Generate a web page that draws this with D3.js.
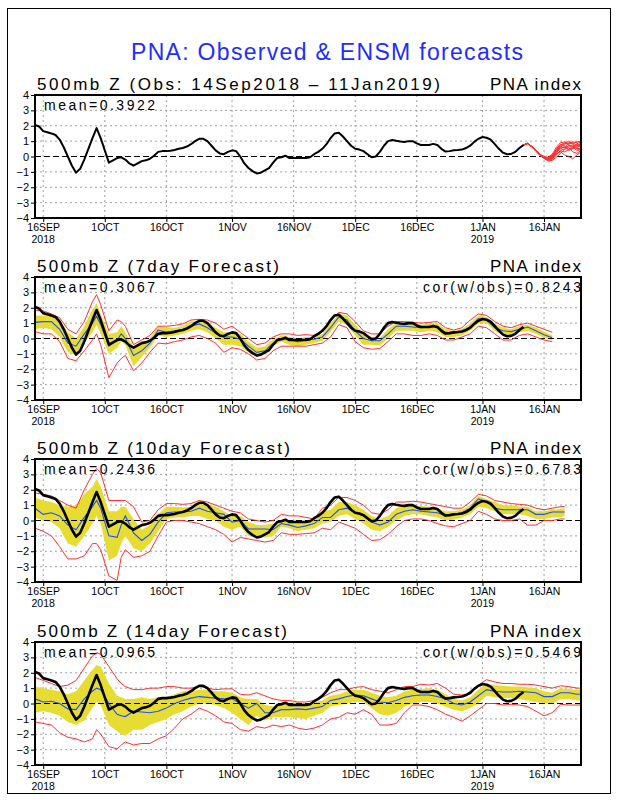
<!DOCTYPE html>
<html>
<head>
<meta charset="utf-8">
<script src="https://cdn.jsdelivr.net/npm/d3@7"></script>
<style>
  body { margin: 0; background: #fff; }
  text { font-family: "Liberation Sans", Arial, sans-serif; }
</style>
</head>
<body>
<script>
// observed PNA index, one value a day from 14 Sep 2018 to 11 Jan 2019
let obsStart = new Date(Date.UTC(2018, 8, 14))
let obsVals = [2.05,1.95,1.65,1.58,1.5,1.4,1.1,0.6,0.0,-0.6,
  -1.05,-0.8,-0.2,0.5,1.2,1.85,1.2,0.4,-0.4,-0.25,
  -0.1,-0.05,-0.2,-0.45,-0.6,-0.45,-0.3,-0.25,-0.15,0.05,
  0.3,0.35,0.35,0.38,0.42,0.5,0.55,0.65,0.8,1.0,
  1.15,1.15,1.0,0.7,0.4,0.2,0.15,0.3,0.4,0.35,
  0.0,-0.45,-0.75,-0.95,-1.1,-1.05,-0.9,-0.75,-0.4,-0.1,
  -0.05,0.05,-0.1,-0.1,-0.1,-0.1,-0.1,-0.05,0.15,0.3,
  0.5,0.8,1.2,1.5,1.55,1.3,1.0,0.7,0.5,0.45,
  0.35,0.15,-0.05,0.0,0.3,0.7,1.0,1.07,1.02,0.98,
  0.95,1.0,1.0,0.85,0.75,0.75,0.75,0.82,0.75,0.5,
  0.32,0.35,0.4,0.42,0.45,0.55,0.7,0.95,1.15,1.27,
  1.22,1.1,0.8,0.5,0.25,0.15,0.17,0.3,0.55,0.75]

// ensemble members after the last observation (top panel, red)
let ensDays = [119,120,121,122,123,124,125,126,127,128,129,130,131,132,133]
let ensMembers = [
  [0.75,0.85,0.65,0.4,0.12,-0.05,-0.15,-0.1,0.3,0.6,0.8,0.9,0.85,0.95,1.0],
  [0.75,0.83,0.62,0.35,0.08,-0.1,-0.25,-0.2,0.1,0.4,0.5,0.7,0.6,0.8,0.75],
  [0.75,0.84,0.63,0.38,0.1,-0.08,-0.2,0.0,0.5,0.8,0.7,0.5,0.6,0.4,0.5],
  [0.75,0.86,0.66,0.42,0.15,0.0,-0.05,0.15,0.6,0.9,0.95,0.8,0.9,0.7,0.85],
  [0.75,0.85,0.64,0.37,0.09,-0.12,-0.3,-0.25,-0.05,0.2,0.45,0.6,0.3,0.2,0.4],
  [0.75,0.84,0.65,0.4,0.11,-0.06,-0.1,0.05,0.35,0.55,0.6,0.85,0.95,0.9,0.6],
  [0.75,0.85,0.63,0.36,0.07,-0.1,-0.2,-0.1,0.2,0.3,0.1,0.0,-0.15,0.1,0.3],
  [0.75,0.86,0.65,0.39,0.13,-0.04,-0.1,0.1,0.45,0.7,0.85,1.0,0.8,0.6,0.7],
  [0.75,0.84,0.64,0.38,0.1,-0.08,-0.18,-0.05,0.25,0.5,0.65,0.4,0.5,0.65,0.9],
  [0.75,0.85,0.66,0.41,0.14,-0.02,-0.12,0.02,0.4,0.65,0.55,0.7,0.75,0.55,0.2],
  [0.75,0.85,0.64,0.38,0.1,-0.1,-0.22,-0.15,0.15,0.35,0.3,0.45,0.55,0.85,0.95],
  [0.75,0.84,0.65,0.39,0.12,-0.05,-0.15,0.0,0.3,0.75,0.9,0.75,0.65,0.5,0.55]
]

// forecast verification days (days after 14 Sep 2018)
let fcDays = [0,2,4,6,8,10,12,14,15,16,18,20,21,22,24,26,28,30,32,34,36,38,40,42,44,46,48,50,
  52,54,56,58,60,62,64,66,68,70,72,74,76,78,80,82,84,86,88,90,92,94,96,98,100,102,104,106,
  108,110,112,114,116,118,120,122,124,126]

// 7 day forecast: ensemble mean, spread band, min/max
let days7 = fcDays
let mean7 = [1.05,1.1,1.1,0.6,-0.3,-0.5,0.3,1.0,1.45,0.9,-0.5,-0.1,0.3,0.0,-1.1,-0.8,-0.3,0.55,0.4,0.5,0.55,0.8,0.95,0.7,0.35,0.1,0.1,-0.05,-0.5,-0.9,-0.8,-0.3,0.0,-0.1,-0.2,-0.1,-0.05,0.1,0.7,1.4,1.2,0.5,0.0,-0.15,-0.15,0.3,0.8,0.8,0.75,0.7,0.75,0.75,0.4,0.35,0.45,0.75,1.3,1.2,0.7,0.5,0.45,0.6,0.75,0.5,0.25,0.05]
let lo7 = [0.6,0.7,0.6,0.1,-0.9,-1.1,-0.3,0.4,0.9,0.3,-1.0,-0.6,-0.2,-0.4,-1.8,-1.2,-0.6,0.2,0.1,0.2,0.3,0.5,0.6,0.4,0.0,-0.4,-0.4,-0.5,-0.9,-1.2,-1.0,-0.5,-0.2,-0.4,-0.5,-0.4,-0.3,-0.15,0.4,1.1,0.9,0.2,-0.4,-0.4,-0.45,0.0,0.5,0.5,0.5,0.4,0.5,0.4,0.1,0.1,0.2,0.5,1.0,1.0,0.5,0.3,0.2,0.4,0.5,0.3,0.05,-0.1]
let hi7 = [1.5,1.5,1.5,1.2,0.4,0.0,0.8,1.9,2.3,1.6,0.3,0.4,0.8,0.4,-0.6,-0.4,0.0,0.8,0.7,0.7,0.8,1.1,1.1,1.0,0.7,0.4,0.4,0.3,-0.2,-0.6,-0.5,-0.05,0.2,0.1,0.0,0.1,0.1,0.3,1.0,1.6,1.5,0.9,0.3,0.1,0.05,0.6,1.0,1.0,1.0,0.9,0.95,1.0,0.6,0.5,0.6,1.0,1.5,1.4,0.95,0.7,0.6,0.8,0.9,0.7,0.45,0.2]
let min7 = [0.45,0.3,0.3,-0.2,-1.3,-1.45,-0.8,-0.1,0.3,-0.4,-2.55,-1.6,-1.3,-1.1,-2.1,-1.6,-0.9,-0.3,-0.35,-0.2,-0.1,0.1,0.2,0.0,-0.3,-0.9,-0.6,-0.7,-1.0,-1.4,-1.3,-0.8,-0.5,-0.5,-0.5,-0.5,-0.4,-0.3,0.1,0.9,0.7,-0.2,-0.6,-0.7,-0.65,-0.2,0.3,0.3,0.2,0.2,0.3,0.2,-0.1,-0.1,0.1,0.3,0.8,0.7,0.3,-0.1,-0.1,0.2,0.3,0.1,-0.1,-0.2]
let max7 = [1.85,1.8,1.6,1.35,0.6,0.3,1.1,2.4,2.85,2.2,0.5,1.2,1.1,0.8,-0.4,-0.1,0.2,0.8,0.8,0.85,0.95,1.2,1.25,1.2,1.0,0.6,0.8,0.4,0.0,-0.4,-0.3,0.1,0.3,0.3,0.2,0.25,0.2,0.5,1.2,1.7,1.6,1.1,0.5,0.3,0.3,0.8,1.1,1.1,1.05,1.0,1.05,1.1,0.7,0.55,0.7,1.2,1.6,1.5,1.1,0.8,0.7,0.9,1.0,0.8,0.6,0.4]

// 10 day forecast
let days10 = fcDays.concat([128,129])
let mean10 = [0.8,0.4,0.5,0.3,-0.3,-0.6,0.2,0.9,1.3,0.8,-1.0,-1.1,-0.3,0.3,-0.8,-1.3,-0.9,-0.1,0.5,0.55,0.55,0.6,0.8,0.6,0.5,0.4,-0.1,0.0,-0.55,-0.55,-0.55,-0.6,-0.2,-0.3,-0.45,-0.35,-0.2,0.2,0.2,0.7,0.8,0.5,0.3,-0.1,-0.3,-0.1,0.4,0.6,0.7,0.6,0.55,0.5,0.3,0.4,0.5,0.8,1.4,1.2,0.8,0.7,0.7,0.7,0.7,0.4,0.4,0.55,0.55,0.55]
let lo10 = [0.2,0.0,-0.1,-0.5,-1.5,-1.7,-1.0,-0.2,0.3,-0.2,-2.6,-2.3,-1.5,-1.0,-1.8,-2.0,-1.5,-0.7,0.1,0.2,0.2,0.3,0.3,0.1,0.0,-0.4,-0.6,-0.4,-1.0,-1.0,-1.1,-1.0,-0.4,-0.5,-0.7,-0.6,-0.5,-0.2,-0.1,0.3,0.4,0.1,-0.2,-0.6,-0.7,-0.4,0.0,0.3,0.4,0.4,0.3,0.2,0.0,0.05,0.2,0.4,0.9,0.8,0.6,0.4,0.4,0.4,0.3,0.1,0.1,0.2,0.2,0.3]
let hi10 = [1.5,1.3,1.2,1.0,0.9,1.0,1.7,2.2,2.7,2.2,0.6,0.6,0.9,0.9,0.1,-0.6,-0.3,0.4,0.9,0.9,0.85,0.9,1.1,1.0,0.9,0.6,0.3,0.3,-0.1,-0.3,-0.3,-0.2,0.0,0.0,-0.1,-0.1,0.1,0.6,0.7,1.2,1.2,1.0,0.7,0.3,0.1,0.3,0.8,1.0,1.0,0.95,0.9,0.8,0.6,0.6,0.7,1.0,1.6,1.4,1.2,1.0,1.0,0.9,0.9,0.6,0.6,0.7,0.75,0.8]
let min10 = [-0.5,-0.7,-1.0,-1.7,-2.5,-2.5,-2.3,-1.5,-1.5,-1.9,-3.6,-3.9,-2.4,-1.9,-2.4,-2.3,-2.0,-1.0,-0.1,0.0,0.0,-0.1,-0.2,-0.4,-0.6,-0.9,-1.4,-1.1,-1.2,-1.3,-1.4,-1.3,-0.8,-0.9,-0.9,-0.85,-0.8,-0.5,-0.6,-0.1,-0.3,-0.5,-0.9,-1.3,-1.25,-0.9,-0.4,0.0,0.1,0.1,0.0,-0.2,-0.35,-0.4,-0.2,0.0,0.6,0.4,0.1,0.0,0.0,0.1,-0.3,-0.3,0.0,0.0,0.1,0.1]
let max10 = [1.8,1.7,1.6,1.3,1.0,0.8,2.0,3.0,3.4,3.1,1.3,1.3,1.3,1.3,0.9,-0.1,0.0,0.7,1.1,1.1,1.05,1.1,1.3,1.2,1.0,0.8,0.6,0.5,0.1,0.0,-0.1,0.0,0.4,0.3,0.3,0.2,0.1,0.8,1.0,1.5,1.5,1.3,1.0,0.5,0.4,0.7,1.2,1.2,1.25,1.2,1.1,1.0,0.9,0.8,0.8,1.2,1.7,1.6,1.3,1.2,1.1,1.05,1.0,0.8,0.7,0.8,0.9,0.9]

// 14 day forecast
let days14 = fcDays.concat([128,130,132,133])
let mean14 = [0.3,0.1,0.15,0.0,-0.35,-0.4,0.3,0.8,1.0,0.9,0.0,-0.7,-0.8,-0.85,-0.5,-0.55,-0.6,-0.5,-0.3,0.0,0.2,0.35,0.45,0.4,0.35,0.3,0.3,0.0,-0.3,0.0,-0.6,-0.6,-0.4,-0.4,-0.35,-0.4,-0.3,-0.2,0.2,0.3,0.45,0.55,0.5,0.3,0.1,0.05,0.2,0.4,0.5,0.55,0.55,0.45,0.3,0.0,-0.1,0.1,0.5,0.9,0.8,0.75,0.75,0.8,0.75,0.7,0.45,0.45,0.7,0.7,0.6,0.6]
let lo14 = [-0.6,-0.5,-0.6,-0.8,-1.2,-1.4,-1.1,-0.3,0.1,-0.1,-1.4,-1.8,-2.0,-2.1,-1.7,-1.7,-1.4,-1.2,-1.0,-0.7,-0.5,-0.2,0.0,0.0,-0.1,-0.3,-0.6,-1.0,-1.4,-0.8,-1.1,-0.9,-0.9,-0.9,-0.95,-1.0,-0.8,-0.6,-0.2,-0.1,0.0,0.1,0.1,-0.3,-0.7,-0.8,-0.6,-0.2,0.0,0.1,0.1,0.0,-0.2,-0.4,-0.5,-0.3,0.0,0.5,0.4,0.35,0.35,0.3,0.2,0.1,0.0,0.0,0.3,0.3,0.2,0.2]
let hi14 = [1.1,1.0,0.9,0.8,0.6,0.8,1.5,2.2,2.5,2.4,1.3,0.5,0.4,0.3,0.3,0.4,0.3,0.4,0.4,0.6,0.8,0.8,0.9,0.9,0.8,0.8,0.7,0.4,0.3,0.3,-0.1,-0.2,0.0,0.0,0.1,0.0,0.1,0.2,0.5,0.6,0.8,0.9,0.9,0.7,0.5,0.4,0.5,0.8,0.9,0.95,1.0,0.9,0.6,0.3,0.2,0.4,0.9,1.3,1.2,1.15,1.1,1.1,1.05,1.0,0.8,0.7,1.0,0.95,0.9,0.9]
let min14 = [-1.2,-1.3,-1.4,-1.9,-2.2,-2.3,-2.5,-2.3,-1.7,-2.0,-2.8,-2.95,-2.7,-2.5,-2.7,-2.6,-2.6,-2.3,-2.1,-1.6,-1.0,-0.7,-0.3,-0.5,-0.8,-1.2,-1.3,-1.7,-1.8,-1.5,-1.6,-1.4,-1.5,-1.4,-1.6,-1.7,-1.6,-1.4,-1.0,-0.9,-0.6,-0.7,-0.4,-0.7,-1.4,-1.4,-1.3,-0.6,-0.1,-0.1,-0.2,-0.4,-0.7,-0.9,-1.15,-0.8,-0.4,0.0,0.0,-0.1,-0.05,-0.1,-0.2,-0.5,-0.8,-0.6,-0.05,-0.1,-0.1,-0.1]
let max14 = [1.7,1.5,1.3,1.1,1.2,1.5,2.3,3.1,3.3,3.2,2.4,1.6,1.3,1.1,0.9,0.9,1.0,1.0,1.1,1.1,1.0,1.0,1.1,1.0,0.9,0.95,0.95,0.6,0.55,0.7,0.5,0.3,0.2,0.2,0.1,0.1,0.2,0.4,0.7,0.9,0.9,1.05,1.1,0.9,0.8,0.7,0.9,1.1,1.1,1.25,1.2,1.3,1.0,0.6,0.55,0.6,1.2,1.55,1.4,1.3,1.3,1.25,1.25,1.2,1.1,1.0,1.15,1.1,1.0,1.0]

let title = 'PNA: Observed & ENSM forecasts'
let headers = ['500mb Z (Obs: 14Sep2018 \u2013 11Jan2019)', '500mb Z (7day Forecast)',
  '500mb Z (10day Forecast)', '500mb Z (14day Forecast)']
let meanLabels = ['mean=0.3922', 'mean=0.3067', 'mean=0.2436', 'mean=0.0965']
let corLabels = [null, 'cor(w/obs)=0.8243', 'cor(w/obs)=0.6783', 'cor(w/obs)=0.5469']
let tickDates = [[2018,8,16],[2018,9,1],[2018,9,16],[2018,10,1],[2018,10,16],
  [2018,11,1],[2018,11,16],[2019,0,1],[2019,0,16]].map(d => new Date(Date.UTC(...d)))
let tickLabels = ['16SEP','1OCT','16OCT','1NOV','16NOV','1DEC','16DEC','1JAN','16JAN']
let yearLabels = ['2018','','','','','','','2019','']
let yTicks = [-4,-3,-2,-1,0,1,2,3,4]

let fcs = [null,
  {days: days7, mean: mean7, lo: lo7, hi: hi7, min: min7, max: max7},
  {days: days10, mean: mean10, lo: lo10, hi: hi10, min: min10, max: max10},
  {days: days14, mean: mean14, lo: lo14, hi: hi14, min: min14, max: max14}]

// layout
let W = 618, H = 800
let left = 35, right = 581, ph = 123
let panelTop = [95, 277, 459, 642]
let headLen = [403, 242, 253, 250]

let day = d => d3.utcDay.offset(obsStart, d)
let x = d3.scaleUtc().domain([obsStart, day(133)]).range([left, right])

let svg = d3.select('body').append('svg').attr('width', W).attr('height', H)
svg.append('rect').attr('width', W).attr('height', H).attr('fill', '#fff')
svg.append('rect').attr('x', 7.5).attr('y', 8.5).attr('width', 603).attr('height', 785)
  .attr('fill', 'none').attr('stroke', '#000').attr('stroke-width', 1)

svg.append('text').attr('x', 131).attr('y', 60).text(title)
  .attr('font-size', 23).attr('fill', '#1f2dff')
  .attr('textLength', 392).attr('lengthAdjust', 'spacing')

panelTop.forEach((top, i) => {
  let y = d3.scaleLinear().domain([-4, 4]).range([top + ph, top])
  let g = svg.append('g')
  let clipId = 'clip' + i
  g.append('clipPath').attr('id', clipId).append('rect')
    .attr('x', left).attr('y', top).attr('width', right - left).attr('height', ph)

  // dotted grid
  g.append('g').selectAll('line').data(tickDates).enter().append('line')
    .attr('x1', d => x(d)).attr('x2', d => x(d)).attr('y1', top).attr('y2', top + ph)
    .attr('stroke', '#a0a0a0').attr('stroke-dasharray', '2,3')
  g.append('g').selectAll('line').data(yTicks.filter(v => v !== 0 && Math.abs(v) < 4)).enter().append('line')
    .attr('x1', left).attr('x2', right).attr('y1', d => y(d)).attr('y2', d => y(d))
    .attr('stroke', '#a0a0a0').attr('stroke-dasharray', '2,3')

  let plot = g.append('g').attr('clip-path', `url(#${clipId})`)
  let fc = fcs[i]
  let line = d3.line().x(d => x(day(d[0]))).y(d => y(d[1]))

  if (fc) {
    let band = fc.days.map((d, k) => ({d: d, lo: fc.lo[k], hi: fc.hi[k]}))
    plot.append('path').datum(band)
      .attr('d', d3.area().x(d => x(day(d.d))).y0(d => y(d.lo)).y1(d => y(d.hi)))
      .attr('fill', '#e6dc32')
  }

  plot.append('line').attr('x1', left).attr('x2', right).attr('y1', y(0)).attr('y2', y(0))
    .attr('stroke', '#000').attr('stroke-dasharray', '6,3').attr('stroke-width', 1.1)

  if (fc) {
    ;[fc.min, fc.max].forEach(s => {
      plot.append('path').datum(fc.days.map((d, k) => [d, s[k]]))
        .attr('d', line).attr('fill', 'none').attr('stroke', '#ff3030').attr('stroke-width', 1)
    })
    plot.append('path').datum(fc.days.map((d, k) => [d, fc.mean[k]]))
      .attr('d', line).attr('fill', 'none').attr('stroke', '#1f4fff').attr('stroke-width', 1.1)
  } else {
    ensMembers.forEach(m => {
      plot.append('path').datum(ensDays.map((d, k) => [d, m[k]]))
        .attr('d', line).attr('fill', 'none').attr('stroke', '#ff3030').attr('stroke-width', 1)
    })
  }

  plot.append('path').datum(obsVals.map((v, k) => [k, v]))
    .attr('d', line).attr('fill', 'none').attr('stroke', '#000')
    .attr('stroke-width', fc ? 2.6 : 2).attr('stroke-linejoin', 'round')

  // frame
  g.append('rect').attr('x', left).attr('y', top).attr('width', right - left).attr('height', ph)
    .attr('fill', 'none').attr('stroke', '#000').attr('stroke-width', 2)

  // axes
  g.append('g').attr('transform', `translate(0,${top + ph})`)
    .call(d3.axisBottom(x).tickValues(tickDates).tickSize(4).tickPadding(2)
      .tickFormat((d, k) => tickLabels[k]))
    .call(a => a.select('.domain').remove())
    .call(a => a.selectAll('text').attr('font-family', '"Liberation Sans", Arial, sans-serif')
      .attr('font-size', 10.5))
  g.append('g').selectAll('text').data(tickDates.filter((d, k) => yearLabels[k])).enter()
    .append('text').attr('x', d => x(d)).attr('y', top + ph + 25)
    .attr('text-anchor', 'middle').attr('font-size', 10.5)
    .text(d => yearLabels[tickDates.indexOf(d)])
  g.append('g').attr('transform', `translate(${left},0)`)
    .call(d3.axisLeft(y).tickValues(yTicks).tickSize(4).tickPadding(2).tickFormat(d3.format('d')))
    .call(a => a.select('.domain').remove())
    .call(a => a.selectAll('text').attr('font-family', '"Liberation Sans", Arial, sans-serif')
      .attr('font-size', 11))

  // labels
  g.append('text').attr('x', 37).attr('y', top - 5).text(headers[i])
    .attr('font-size', 17).attr('textLength', headLen[i]).attr('lengthAdjust', 'spacing')
  g.append('text').attr('x', right).attr('y', top - 5).text('PNA index')
    .attr('font-size', 17).attr('text-anchor', 'end')
    .attr('textLength', 91).attr('lengthAdjust', 'spacing')
  g.append('text').attr('x', 44).attr('y', top + 15).text(meanLabels[i])
    .attr('font-size', 14).attr('textLength', 111).attr('lengthAdjust', 'spacing')
  if (corLabels[i]) {
    g.append('text').attr('x', right).attr('y', top + 15).text(corLabels[i])
      .attr('font-size', 14).attr('text-anchor', 'end')
      .attr('textLength', 158).attr('lengthAdjust', 'spacing')
  }
})
</script>
</body>
</html>
